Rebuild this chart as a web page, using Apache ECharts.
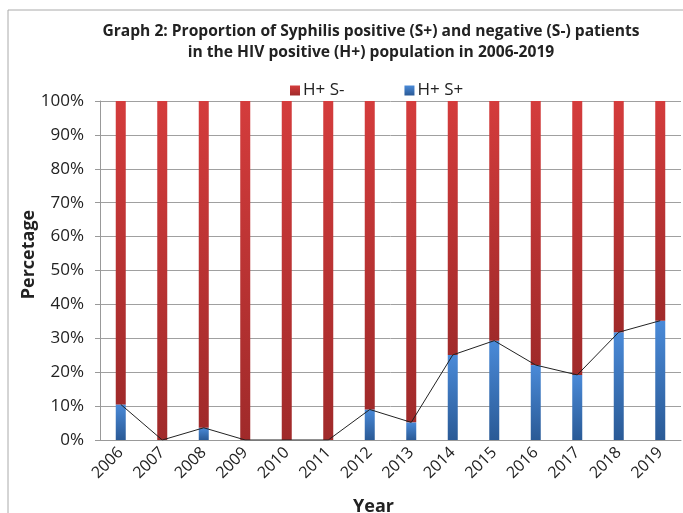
<!DOCTYPE html>
<html>
<head>
<meta charset="utf-8">
<script src="https://cdn.jsdelivr.net/npm/echarts@6/dist/echarts.min.js"></script>
<style>
  html, body { margin: 0; padding: 0; background: #fff; }
  #chart { width: 683px; height: 513px; }
</style>
</head>
<body>
<div id="chart"></div>
<script>
// data (percent)
const years = ["2006", "2007", "2008", "2009", "2010", "2011", "2012", "2013", "2014", "2015", "2016", "2017", "2018", "2019"];
const sPositive = [10.5, 0, 3.6, 0, 0, 0, 9.0, 5.2, 25.1, 29.3, 22.1, 19.2, 31.8, 35.2];
const sNegative = [89.5, 100, 96.4, 100, 100, 100, 91.0, 94.8, 74.9, 70.7, 77.9, 80.8, 68.2, 64.8];

const chart = echarts.init(document.getElementById("chart"));

const redFill = new echarts.graphic.LinearGradient(0, 0, 0, 1, [
  { offset: 0, color: "#d43c3c" },
  { offset: 1, color: "#a02a2a" }
]);
const blueFill = new echarts.graphic.LinearGradient(0, 0, 0, 1, [
  { offset: 0, color: "#4a8ad8" },
  { offset: 1, color: "#2a5a96" }
]);

chart.setOption({
  animation: false,
  textStyle: { fontFamily: "Open Sans" },
  title: {
    text: "Graph 2: Proportion of Syphilis positive (S+) and negative (S-) patients\nin the HIV positive (H+) population in 2006-2019",
    left: 366,
    top: 16,
    textAlign: "center",
    textStyle: { fontSize: 15.6, fontWeight: "bold", color: "#222", lineHeight: 21, fontFamily: "Open Sans" }
  },
  legend: {
    data: ["H+ S-", "H+ S+"],
    top: 77,
    left: 285,
    itemGap: 60,
    itemWidth: 10,
    itemHeight: 10,
    icon: "rect",
    textStyle: { fontSize: 17, color: "#222", padding: [0, 0, 0, -2] }
  },
  graphic: [{
    type: "rect",
    shape: { x: 8, y: 10, width: 700, height: 600 },
    style: { fill: "none", stroke: "#aaa", lineWidth: 1 },
    silent: true,
    z: -1
  }],
  grid: { left: 100, right: 2, top: 101, bottom: 73, outerBoundsMode: "none" },
  xAxis: {
    type: "category",
    data: years,
    name: "Year",
    nameLocation: "middle",
    nameGap: 58,
    nameMoveOverlap: false,
    nameTextStyle: { fontSize: 18, fontWeight: "bold", color: "#222", padding: [0, 34, 0, 0] },
    axisLine: { lineStyle: { color: "#999" } },
    axisTick: { show: false },
    axisLabel: { rotate: 45, fontSize: 16, color: "#222", margin: 10 }
  },
  yAxis: {
    type: "value",
    min: 0,
    max: 100,
    interval: 10,
    name: "Percetage",
    nameLocation: "middle",
    nameGap: 62,
    nameMoveOverlap: false,
    nameTextStyle: { fontSize: 18, fontWeight: "bold", color: "#222", padding: [0, 0, 0, 32] },
    axisLine: { show: true, lineStyle: { color: "#999" } },
    axisTick: { show: true, length: 5, lineStyle: { color: "#999" } },
    axisLabel: { formatter: "{value}%", fontSize: 17, color: "#222", margin: 16 },
    splitLine: { lineStyle: { color: "#a0a0a0" } }
  },
  series: [
    {
      name: "H+ S+",
      type: "bar",
      stack: "total",
      barWidth: 10,
      data: sPositive,
      itemStyle: { color: blueFill }
    },
    {
      name: "H+ S-",
      type: "bar",
      stack: "total",
      barWidth: 10,
      data: sNegative,
      itemStyle: { color: redFill }
    },
    {
      name: "trend",
      type: "line",
      data: sPositive,
      symbol: "none",
      lineStyle: { color: "#222", width: 1 },
      z: 5
    }
  ]
});
</script>
</body>
</html>
